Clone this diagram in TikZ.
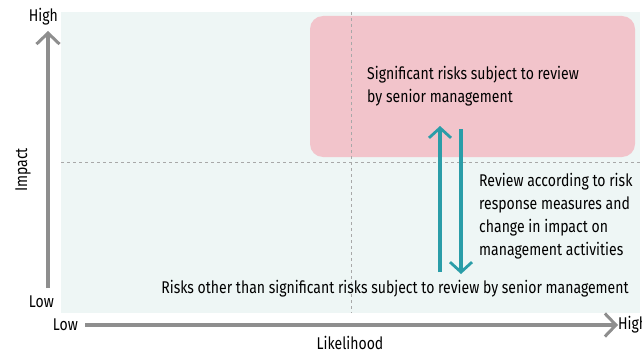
\documentclass[tikz,border=0pt]{standalone}
\usepackage{fontspec}
\setmainfont[FakeStretch=0.825]{Fira Sans}
\usepackage{xcolor}
\usetikzlibrary{arrows.meta, positioning}

\definecolor{panelbg}{HTML}{EEF6F5}
\definecolor{sigpink}{HTML}{F2C4CB}
\definecolor{axisgray}{HTML}{8E8E8E}
\definecolor{gridgray}{HTML}{A8A8A8}
\definecolor{revteal}{HTML}{2A9DA8}

\begin{document}
\begin{tikzpicture}[
  x=1pt, y=-1pt,
  every node/.style={font=\fontsize{17}{23}\selectfont, text=black, inner sep=0pt},
  lbl/.style={align=left},
  axis/.style={draw=axisgray, line width=3.6pt, -{Straight Barb[length=11pt, width=23pt, line width=3pt]}},
  grid/.style={draw=gridgray, dashed, dash pattern=on 3pt off 3pt, line width=0.8pt},
  rev/.style={draw=revteal, line width=3.2pt, -{Straight Barb[length=10pt, width=22pt, line width=2.8pt]}}
]
\useasboundingbox (0,0) rectangle (642,353);

% panels
\fill[panelbg] (61,12) rectangle (640,313);
\fill[sigpink, rounded corners=13pt] (310,16) rectangle (635,157);
\draw[grid] (351,12) -- (351,313);
\draw[grid] (61,162) -- (640,162);

% axes
\coordinate (ylow) at (48,288);
\coordinate (yhigh) at (48,31);
\coordinate (xlow) at (85,325);
\coordinate (xhigh) at (618,325);
\draw[axis] (ylow) -- (yhigh);
\draw[axis] (xlow) -- (xhigh);

\node[anchor=east] (ytop) at (58,17) {High};
\node[anchor=east] (ybot) at (54,302) {Low};
\node[anchor=east] (xleft) at (78,325) {Low};
\node[anchor=west] (xright) at (618,325) {High};
\node (likel) at (350,342.5) {Likelihood};
\node[rotate=90] (impact) at (23,170) {Impact};

% risk groups
\node[lbl, anchor=west] (sig) at (367,86) {Significant risks subject to review\\by senior management};
\node (other) at (395,289) {Risks other than significant risks subject to review by senior management};
\node[lbl, anchor=west] (note) at (479,216) {Review according to risk\\response measures and\\change in impact on\\management activities};

% review arrows
\coordinate (upfrom) at (440,272);
\coordinate (upto) at (440,126);
\coordinate (downfrom) at (461,129);
\coordinate (downto) at (461,274);
\draw[rev] (upfrom) -- (upto);
\draw[rev] (downfrom) -- (downto);
\end{tikzpicture}
\end{document}
